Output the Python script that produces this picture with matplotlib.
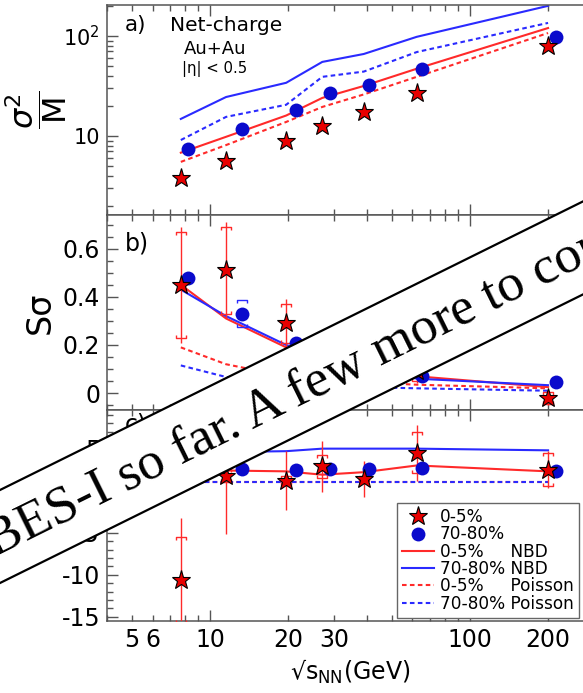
import numpy as np
import matplotlib.pyplot as plt
from matplotlib.path import Path
from matplotlib.patches import Polygon
from matplotlib.ticker import LogLocator, FixedLocator, MultipleLocator, FuncFormatter, NullFormatter

plt.rcParams['font.family'] = ['DejaVu Sans']
plt.rcParams['mathtext.fontset'] = 'dejavusans'

# beam energies (GeV); peripheral points shifted a bit for visibility
energies = [7.7, 11.5, 19.6, 27, 39, 62.4, 200]
energies_periph = [8.2, 13.2, 21.3, 28.8, 40.8, 65.3, 214]

# a) sigma^2/M
a_central = [3.8, 5.6, 8.9, 12.6, 17.4, 27, 79]
a_periph = [7.4, 11.7, 18.2, 27, 32.4, 46.8, 98]
a_nbd_central = [6.8, 9.8, 16, 24, 31.6, 47, 120]
a_nbd_periph = [14.8, 24.5, 34, 55, 66, 98, 200]
a_poi_central = [5.5, 8.1, 13.8, 19.5, 26, 39, 107]
a_poi_periph = [9.1, 15.5, 20.5, 39, 44, 69, 135]

# b) S sigma
b_central = [0.45, 0.51, 0.29, 0.15, 0.11, 0.09, -0.02]
b_central_stat = [0.24, 0.20, 0.10, 0.07, 0.05, 0.05, 0.03]
b_central_sys = [0.22, 0.18, 0.08, 0.05, 0.04, 0.04, 0.025]
b_periph = [0.48, 0.33, 0.21, 0.16, 0.12, 0.07, 0.045]
b_periph_sys = [0.0, 0.055, 0.0, 0.0, 0.0, 0.0, 0.0]
b_nbd_central = [0.45, 0.31, 0.19, 0.14, 0.11, 0.07, 0.025]
b_nbd_periph = [0.43, 0.32, 0.20, 0.15, 0.11, 0.06, 0.033]
b_poi_central = [0.19, 0.12, 0.07, 0.055, 0.045, 0.035, 0.02]
b_poi_periph = [0.115, 0.067, 0.04, 0.03, 0.025, 0.02, 0.01]

# c) kappa sigma^2
c_central = [-10.6, 1.8, 1.2, 2.9, 1.4, 4.5, 2.5]
c_central_stat = [7.4, 7.0, 3.5, 3.0, 2.1, 3.3, 2.2]
c_central_sys = [5.1, 0.8, 0.5, 1.4, 0.3, 2.45, 2.0]
c_periph = [2.5, 2.6, 2.5, 2.6, 2.6, 2.7, 2.3]
c_nbd_central = [2.4, 2.4, 2.3, 1.9, 2.2, 3.0, 2.3]
c_nbd_periph = [4.6, 4.6, 4.7, 5.0, 5.0, 5.0, 4.8]
c_poi_central = [1, 1, 1, 1, 1, 1, 1]
c_poi_periph = [1, 1, 1, 1, 1, 1, 1]

RED = '#ff2a2a'
BLUE = '#2a2aff'
GRAY = '#555555'
DOT = (0, (2.2, 1.6))

cap_top = Path([(-1, -0.6), (-1, 0), (1, 0), (1, -0.6)],
               [Path.MOVETO, Path.LINETO, Path.LINETO, Path.LINETO])
cap_bot = Path([(-1, 0.6), (-1, 0), (1, 0), (1, 0.6)],
               [Path.MOVETO, Path.LINETO, Path.LINETO, Path.LINETO])


def sys_brackets(ax, x, y, err, color):
    x = np.asarray(x); y = np.asarray(y); err = np.asarray(err)
    m = err > 0
    for path, sign in ((cap_top, 1), (cap_bot, -1)):
        ax.plot(x[m], y[m] + sign * err[m], ls='none', marker=path, ms=7,
                mfc='none', mec=color, mew=1.0, zorder=3)


def draw_models(ax, nc, npf, pc, pp):
    ax.plot(energies, nc, color=RED, lw=1.5, zorder=2)
    ax.plot(energies, npf, color=BLUE, lw=1.5, zorder=2)
    ax.plot(energies, pc, color=RED, lw=1.5, ls=DOT, zorder=2)
    ax.plot(energies, pp, color=BLUE, lw=1.5, ls=DOT, zorder=2)


def draw_points(ax, yc, yp, stat=None):
    if stat is not None:
        ax.errorbar(energies, yc, yerr=stat, fmt='none', ecolor=RED,
                    elinewidth=1.0, capsize=0, zorder=3)
    ax.plot(energies_periph, yp, 'o', color='#0a0acc', ms=10, mew=0, zorder=4)
    ax.plot(energies, yc, '*', mfc='#e80000', mec='black', mew=0.8, ms=14, zorder=5)


fig = plt.figure(figsize=(5.83, 6.93), dpi=100)
L, W = 0.1835, 0.835
ax_a = fig.add_axes([L, 0.6898, W, 0.3030])
ax_b = fig.add_axes([L, 0.4084, W, 0.2814], sharex=ax_a)
ax_c = fig.add_axes([L, 0.1039, W, 0.3045], sharex=ax_a)

# panel a
draw_models(ax_a, a_nbd_central, a_nbd_periph, a_poi_central, a_poi_periph)
draw_points(ax_a, a_central, a_periph)
ax_a.set_yscale('log')
ax_a.set_ylim(1.62, 204)
ax_a.yaxis.set_major_locator(FixedLocator([10, 100]))
ax_a.yaxis.set_major_formatter(FuncFormatter(lambda v, p: '10' if v < 50 else r'$10^2$'))
ax_a.yaxis.set_minor_locator(LogLocator(subs=np.arange(2, 10)))
ax_a.yaxis.set_minor_formatter(NullFormatter())
ax_a.set_ylabel(r'$\dfrac{\sigma^{2}}{\mathrm{M}}$', fontsize=23, va='center')
ax_a.yaxis.set_label_coords(-0.145, 0.5)
ax_a.text(0.037, 0.905, 'a)', transform=ax_a.transAxes, fontsize=15.5, va='center')
ax_a.text(0.244, 0.9, 'Net-charge', transform=ax_a.transAxes, fontsize=14.5,
          ha='center', va='center')
ax_a.text(0.222, 0.79, 'Au+Au', transform=ax_a.transAxes, fontsize=13,
          ha='center', va='center')
ax_a.text(0.222, 0.695, '|η| < 0.5', transform=ax_a.transAxes, fontsize=10.7,
          ha='center', va='center')

# panel b
draw_models(ax_b, b_nbd_central, b_nbd_periph, b_poi_central, b_poi_periph)
sys_brackets(ax_b, energies, b_central, b_central_sys, RED)
sys_brackets(ax_b, energies_periph, b_periph, b_periph_sys, BLUE)
draw_points(ax_b, b_central, b_periph, b_central_stat)
ax_b.set_ylim(-0.07, 0.74)
ax_b.yaxis.set_major_locator(FixedLocator([0, 0.2, 0.4, 0.6]))
ax_b.yaxis.set_major_formatter(FuncFormatter(lambda v, p: '0' if abs(v) < 1e-9 else f'{v:.1f}'))
ax_b.yaxis.set_minor_locator(MultipleLocator(0.05))
ax_b.set_ylabel('Sσ', fontsize=24, va='center')
ax_b.yaxis.set_label_coords(-0.138, 0.5)
ax_b.text(0.037, 0.856, 'b)', transform=ax_b.transAxes, fontsize=17, va='center')

# panel c
draw_models(ax_c, c_nbd_central, c_nbd_periph, c_poi_central, c_poi_periph)
sys_brackets(ax_c, energies, c_central, c_central_sys, RED)
draw_points(ax_c, c_central, c_periph, c_central_stat)
ax_c.set_ylim(-15.5, 9.6)
ax_c.yaxis.set_major_locator(MultipleLocator(5))
ax_c.yaxis.set_major_formatter(FuncFormatter(lambda v, p: f'{v:.0f}'))
ax_c.yaxis.set_minor_locator(MultipleLocator(1))
ax_c.set_ylabel('κσ²', fontsize=24, va='center')
ax_c.yaxis.set_label_coords(-0.138, 0.5)
ax_c.text(0.037, 0.93, 'c)', transform=ax_c.transAxes, fontsize=17, va='center')

# shared log x axis
ax_c.set_xscale('log')
ax_c.set_xlim(4, 300)
ax_c.xaxis.set_major_locator(FixedLocator([10, 100]))
ax_c.xaxis.set_major_formatter(FuncFormatter(lambda v, p: f'{v:g}'))
ax_c.xaxis.set_minor_locator(LogLocator(subs=np.arange(2, 10)))
shown = {5, 6, 20, 30, 200}
ax_c.xaxis.set_minor_formatter(FuncFormatter(
    lambda v, p: f'{v:g}' if int(round(v)) in shown else ''))
ax_c.set_xlabel('√s$_{\\mathrm{NN}}$(GeV)', fontsize=17)

for ax, size in ((ax_a, 15), (ax_b, 17), (ax_c, 17)):
    ax.tick_params(which='both', direction='in', top=True, right=True,
                   color=GRAY, width=1.0)
    ax.tick_params(axis='y', which='both', labelsize=size, pad=5)
    ax.tick_params(axis='x', which='both', labelsize=17, pad=5)
    ax.tick_params(which='major', length=8)
    ax.tick_params(which='minor', length=4.5)
    for s in ax.spines.values():
        s.set_color(GRAY)
        s.set_linewidth(1.1)
for ax in (ax_a, ax_b):
    ax.tick_params(axis='x', which='both', labelbottom=False)

# legend
h_star, = ax_c.plot([], [], '*', mfc='#e80000', mec='black', mew=0.8, ms=14)
h_circ, = ax_c.plot([], [], 'o', color='#0a0acc', ms=10, mew=0)
h_rn, = ax_c.plot([], [], color=RED, lw=1.5)
h_bn, = ax_c.plot([], [], color=BLUE, lw=1.5)
h_rp, = ax_c.plot([], [], color=RED, lw=1.5, ls=DOT)
h_bp, = ax_c.plot([], [], color=BLUE, lw=1.5, ls=DOT)
leg = ax_c.legend([h_star, h_circ, h_rn, h_bn, h_rp, h_bp],
                  ['0-5%', '70-80%', '0-5%     NBD', '70-80% NBD',
                   '0-5%     Poisson', '70-80% Poisson'],
                  loc='upper left', bbox_to_anchor=(0.595, 0.559), borderaxespad=0,
                  fontsize=12.2, labelspacing=-0.04, handlelength=1.9,
                  handletextpad=0.35, borderpad=0.3, fancybox=False,
                  framealpha=1, edgecolor='#666666')
leg.get_frame().set_linewidth(1.0)

# diagonal banner across the figure
fw, fh = 583.0, 693.0
slope = 0.495
corners_px = [(-30, 490 + 30 * slope), (640, 490 - 640 * slope),
              (640, 583 - 640 * slope), (-30, 583 + 30 * slope)]
corners = [(x / fw, 1 - y / fh) for x, y in corners_px]
banner = Polygon(corners, closed=True, transform=fig.transFigure, facecolor='white',
                 edgecolor='black', linewidth=1.6, zorder=10)
fig.add_artist(banner)
fig.text(-5 / fw, 1 - 557 / fh, 'BES-I so far. A few more to come.',
         rotation=np.degrees(np.arctan(slope)), rotation_mode='anchor',
         ha='left', va='baseline', fontsize=38.5, family='Liberation Serif',
         color='black', zorder=11)

fig.savefig('out.png', dpi=100)
